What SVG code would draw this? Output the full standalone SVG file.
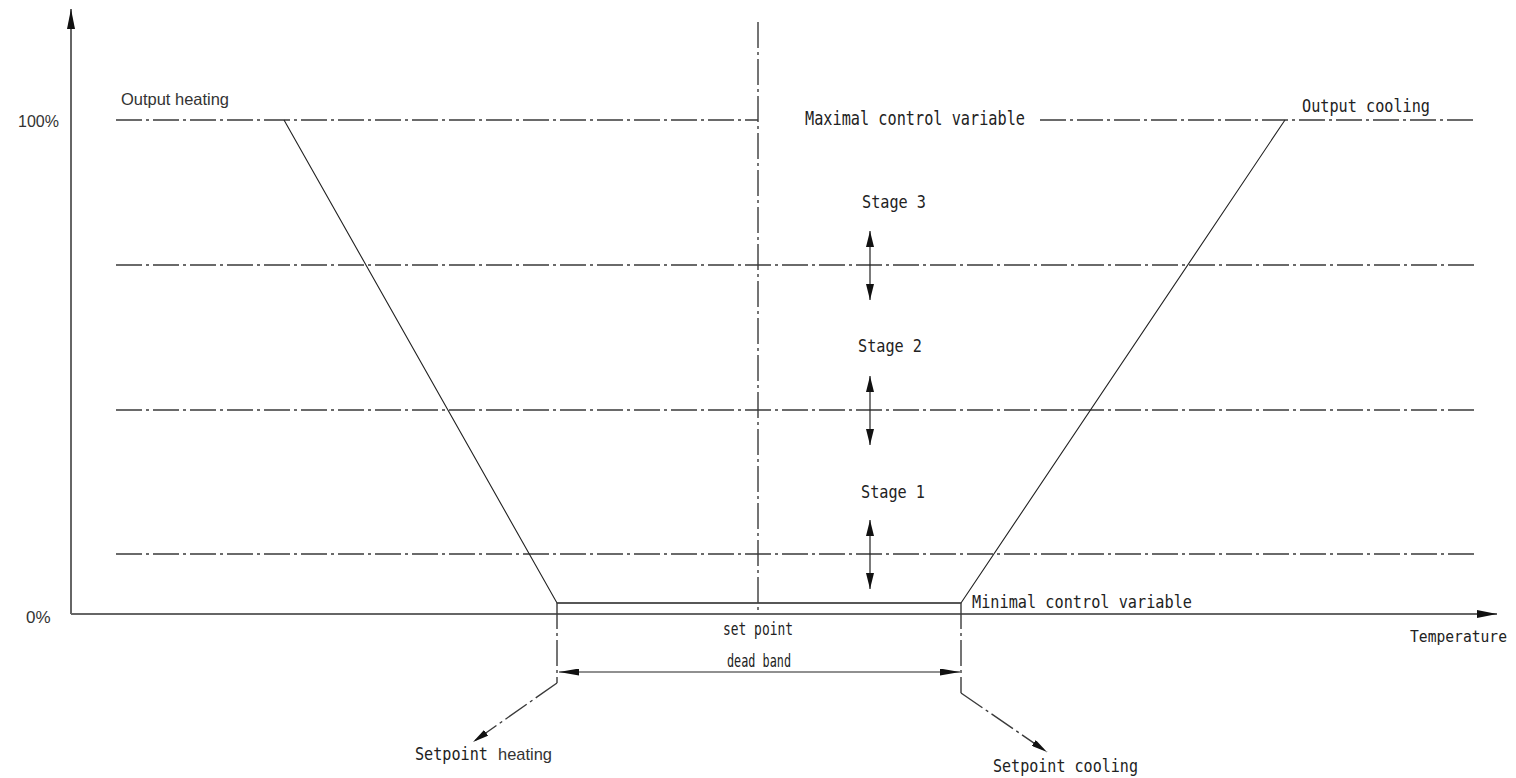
<svg xmlns="http://www.w3.org/2000/svg" width="1516" height="778" viewBox="0 0 1516 778">
<style>
.dd{fill:none;stroke:#3a3a3a;stroke-width:1.4;stroke-dasharray:26 4 3 4}
.ax{fill:none;stroke:#666;stroke-width:2}
.ln{fill:none;stroke:#222;stroke-width:1.1}
.db{fill:none;stroke:#444;stroke-width:1.6}
.ar{fill:none;stroke:#222;stroke-width:1.2}
.sans{font-family:"Liberation Sans",Arial,sans-serif;fill:#333}
.mono{font-family:"DejaVu Sans Mono","Liberation Mono",monospace;fill:#222}
</style>
<defs>
<marker id="ah" viewBox="0 0 16 8" refX="16" refY="4" markerWidth="16" markerHeight="8" markerUnits="userSpaceOnUse" orient="auto-start-reverse"><path d="M0,0 L16,4 L0,8 z" fill="#111"/></marker>
<marker id="axh" viewBox="0 0 20 8" refX="20" refY="4" markerWidth="20" markerHeight="8" markerUnits="userSpaceOnUse" orient="auto"><path d="M0,0 L20,4 L0,8 z" fill="#111"/></marker>
<marker id="dbh" viewBox="0 0 20 7" refX="20" refY="3.5" markerWidth="20" markerHeight="7" markerUnits="userSpaceOnUse" orient="auto-start-reverse"><path d="M0,0 L20,3.5 L0,7 z" fill="#111"/></marker>
<marker id="sph" viewBox="0 0 16 7" refX="16" refY="3.5" markerWidth="16" markerHeight="7" markerUnits="userSpaceOnUse" orient="auto"><path d="M0,0 L16,3.5 L0,7 z" fill="#111"/></marker>
</defs>
<rect width="1516" height="778" fill="#fff"/>
<g id="axes">
<line class="ax" x1="71" y1="614" x2="71" y2="9" marker-end="url(#axh)"/>
<line class="ax" x1="71" y1="614" x2="1497" y2="614" marker-end="url(#axh)"/>
</g>
<g id="guides">
<line class="dd" x1="116" y1="120" x2="758" y2="120"/>
<line class="dd" x1="1040" y1="120" x2="1476" y2="120"/>
<line class="dd" x1="758" y1="22" x2="758" y2="614"/>
<line class="dd" x1="116" y1="265" x2="1476" y2="265"/>
<line class="dd" x1="116" y1="410" x2="1476" y2="410"/>
<line class="dd" x1="116" y1="554" x2="1476" y2="554"/>
</g>
<g id="connectors">
<polyline class="ln" points="284,120 557,603 961,603 1285,120"/>
<line class="db" x1="557" y1="603" x2="961" y2="603"/>
<line class="dd" x1="557" y1="603" x2="557" y2="683"/>
<line class="dd" x1="557" y1="683" x2="473" y2="742" marker-end="url(#sph)"/>
<line class="dd" x1="961" y1="603" x2="961" y2="693"/>
<line class="dd" x1="961" y1="693" x2="1047" y2="752" marker-end="url(#sph)"/>
<line class="ar" x1="559" y1="672" x2="960" y2="672" marker-start="url(#dbh)" marker-end="url(#dbh)"/>
<line class="ar" x1="870" y1="231" x2="870" y2="300" marker-start="url(#ah)" marker-end="url(#ah)"/>
<line class="ar" x1="870" y1="376" x2="870" y2="445" marker-start="url(#ah)" marker-end="url(#ah)"/>
<line class="ar" x1="870" y1="520" x2="870" y2="589" marker-start="url(#ah)" marker-end="url(#ah)"/>
</g>
<g id="labels">
<text class="sans" x="18" y="127" font-size="16">100%</text>
<text class="sans" x="26" y="623" font-size="17">0%</text>
<text class="sans" x="121" y="105" font-size="16.5" textLength="108" lengthAdjust="spacingAndGlyphs">Output heating</text>
<text class="mono" x="805" y="125" font-size="20" textLength="220" lengthAdjust="spacingAndGlyphs">Maximal control variable</text>
<text class="mono" x="1302" y="112" font-size="18" textLength="128" lengthAdjust="spacingAndGlyphs">Output cooling</text>
<text class="mono" x="862" y="208" font-size="18" textLength="64" lengthAdjust="spacingAndGlyphs">Stage 3</text>
<text class="mono" x="858" y="352" font-size="18" textLength="64" lengthAdjust="spacingAndGlyphs">Stage 2</text>
<text class="mono" x="861" y="498" font-size="18" textLength="64" lengthAdjust="spacingAndGlyphs">Stage 1</text>
<text class="mono" x="972" y="608" font-size="18" textLength="220" lengthAdjust="spacingAndGlyphs">Minimal control variable</text>
<text class="mono" x="723" y="635" font-size="17" textLength="70" lengthAdjust="spacingAndGlyphs">set point</text>
<text class="mono" x="727" y="667" font-size="17" textLength="64" lengthAdjust="spacingAndGlyphs">dead band</text>
<text class="mono" x="1410" y="642" font-size="15" textLength="97" lengthAdjust="spacingAndGlyphs">Temperature</text>
<text x="415" y="760" font-size="17"><tspan class="mono" textLength="73" lengthAdjust="spacingAndGlyphs">Setpoint</tspan> <tspan class="sans" x="498" textLength="54" lengthAdjust="spacingAndGlyphs">heating</tspan></text>
<text class="mono" x="993" y="772" font-size="17" textLength="145" lengthAdjust="spacingAndGlyphs">Setpoint cooling</text>
</g>
</svg>
